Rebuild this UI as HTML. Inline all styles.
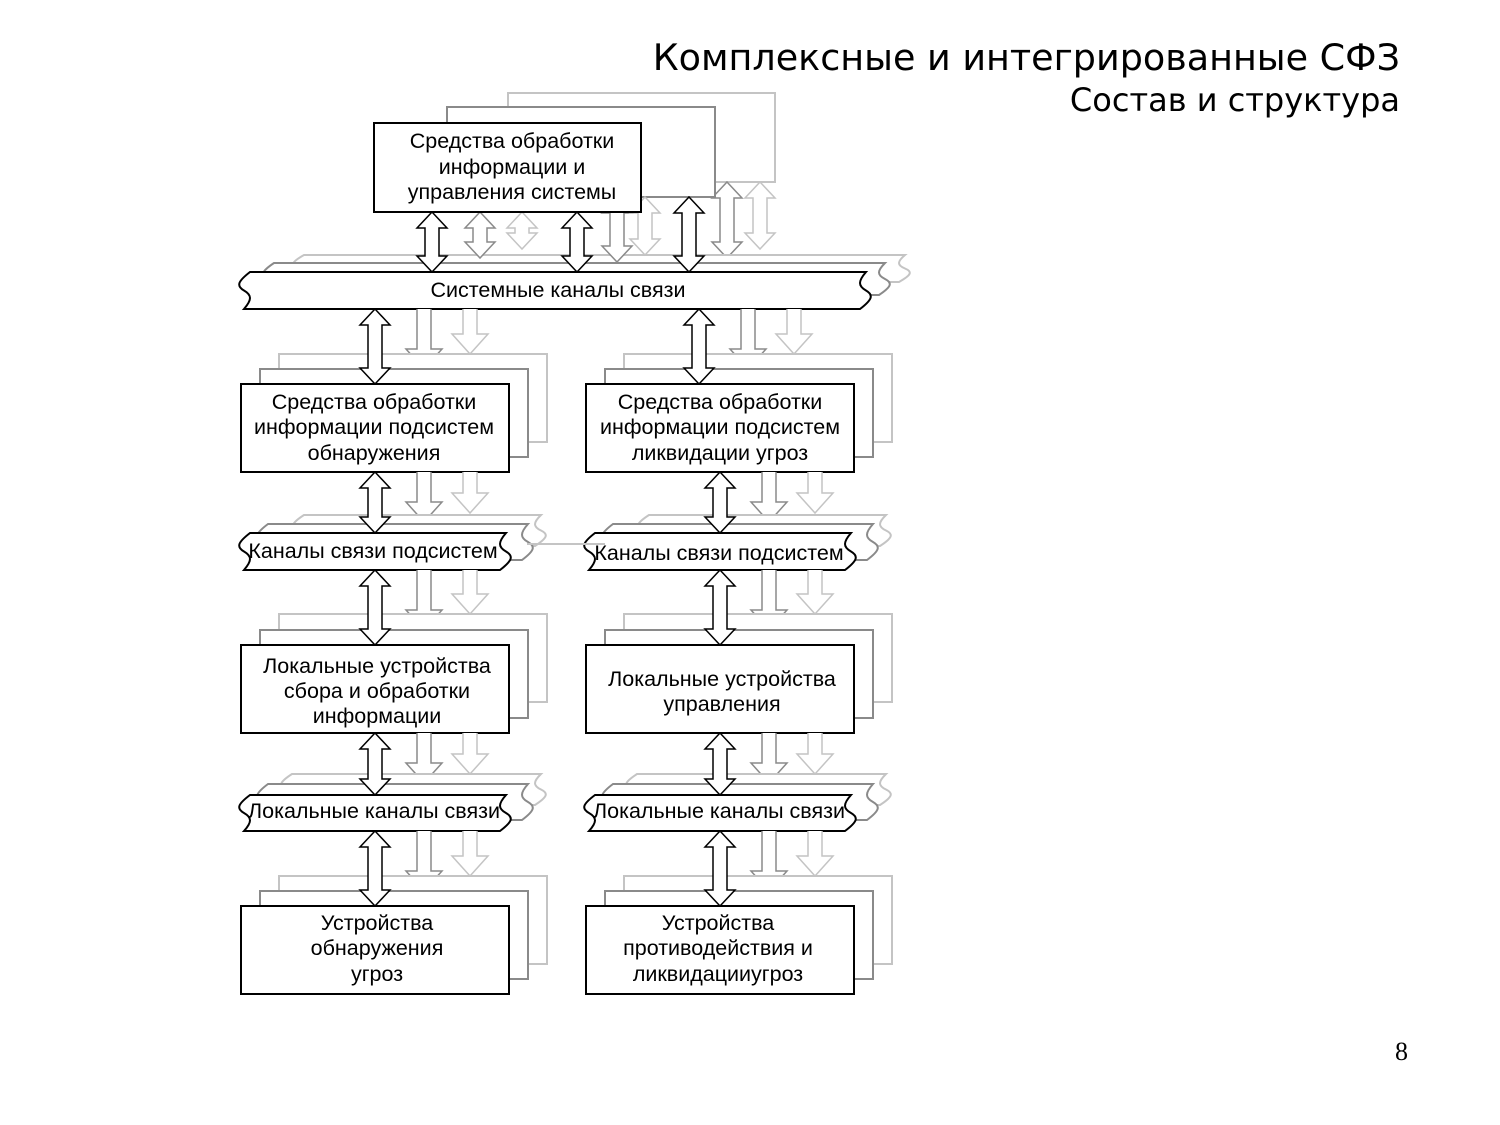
<!DOCTYPE html>
<html><head><meta charset="utf-8"><style>
html,body{margin:0;padding:0;background:#fff}
svg{display:block}
.t{font-family:"Liberation Sans",Arial,sans-serif;font-size:21.5px;fill:#000}
</style></head><body>
<svg id="s" width="1500" height="1125" viewBox="0 0 1500 1125" xmlns="http://www.w3.org/2000/svg">
<g id="shapes"></g>
<text x="1400" y="70" text-anchor="end" style="font-family:'DejaVu Sans',sans-serif;font-size:36.5px" fill="#000">Комплексные и интегрированные СФЗ</text>
<text x="1400" y="111" text-anchor="end" style="font-family:'DejaVu Sans',sans-serif;font-size:32px" fill="#000">Состав и структура</text>
<text x="1408" y="1060" text-anchor="end" style="font-family:'Liberation Serif',serif;font-size:26px" fill="#000">8</text>

<g class="t" text-anchor="middle">
<text x="512" y="148">Средства  обработки</text>
<text x="512" y="174">информации и</text>
<text x="512" y="199">управления системы</text>
<text x="558" y="297">Системные каналы связи</text>

<text x="374" y="409">Средства  обработки</text>
<text x="374" y="434">информации подсистем</text>
<text x="374" y="460">обнаружения</text>
<text x="720" y="409">Средства  обработки</text>
<text x="720" y="434">информации подсистем</text>
<text x="720" y="460">ликвидации угроз</text>

<text x="373" y="558">Каналы связи подсистем</text>
<text x="719" y="560">Каналы связи подсистем</text>

<text x="377" y="673">Локальные устройства</text>
<text x="377" y="698">сбора и обработки</text>
<text x="377" y="723">информации</text>
<text x="722" y="686">Локальные устройства</text>
<text x="722" y="711">управления</text>

<text x="374" y="818">Локальные каналы связи</text>
<text x="719" y="818">Локальные каналы связи</text>

<text x="377" y="930">Устройства</text>
<text x="377" y="955">обнаружения</text>
<text x="377" y="981">угроз</text>
<text x="718" y="930">Устройства</text>
<text x="718" y="955">противодействия и</text>
<text x="718" y="981">ликвидацииугроз</text>
</g>
</svg>
<script>
var g=document.getElementById('shapes'),h='';
var L='#c4c4c4',M='#8a8a8a',K='#000';
function rect(x1,y1,x2,y2,c,w){h+='<rect x="'+x1+'" y="'+y1+'" width="'+(x2-x1)+'" height="'+(y2-y1)+'" fill="#fff" stroke="'+c+'" stroke-width="'+(w||2)+'"/>';}
function band(x1,y1,x2,y2,c,w){var m=(y1+y2)/2,q=(y2-y1)/4;
h+='<path d="M'+(x1+6)+','+y1+' L'+x2+','+y1+' C'+(x2-8)+','+(y1+q)+' '+(x2-8)+','+(m-q/2)+' '+x2+','+m+' C'+(x2+8)+','+(m+q/2)+' '+(x2+6)+','+(y2-q)+' '+(x2-6)+','+y2+' L'+x1+','+y2+' C'+(x1+8)+','+(y2-q)+' '+(x1+8)+','+(m+q/2)+' '+x1+','+m+' C'+(x1-8)+','+(m-q/2)+' '+(x1-6)+','+(y1+q)+' '+(x1+6)+','+y1+' Z" fill="#fff" stroke="'+c+'" stroke-width="'+(w||2)+'"/>';}
function dbl(x,y1,y2,c){var a=15,s=7,hl=16;
h+='<path d="M'+x+','+y1+' L'+(x+a)+','+(y1+hl)+' L'+(x+s)+','+(y1+hl)+' L'+(x+s)+','+(y2-hl)+' L'+(x+a)+','+(y2-hl)+' L'+x+','+y2+' L'+(x-a)+','+(y2-hl)+' L'+(x-s)+','+(y2-hl)+' L'+(x-s)+','+(y1+hl)+' L'+(x-a)+','+(y1+hl)+' Z" fill="#fff" stroke="'+c+'" stroke-width="1.5"/>';}
function down(x,y1,y2,c){var a=18,s=7,hl=20;
h+='<path d="M'+(x-s)+','+y1+' L'+(x-s)+','+(y2-hl)+' L'+(x-a)+','+(y2-hl)+' L'+x+','+y2+' L'+(x+a)+','+(y2-hl)+' L'+(x+s)+','+(y2-hl)+' L'+(x+s)+','+y1+'" fill="#fff" stroke="'+c+'" stroke-width="1.5"/>';}

rect(508,93,775,182,L);
dbl(727,182,258,M); dbl(760,182,249,L);
rect(447,107,715,197,M);
band(298,255,905,282,L); band(268,263,885,295,M);
dbl(480,212,258,M); dbl(522,212,249,L); dbl(617,197,262,M); dbl(645,197,255,L);
rect(374,123,641,212,K);
dbl(432,212,272,K); dbl(577,212,272,K); dbl(689,197,272,K);
band(244,272,866,309,K);

function col(x,bx,arrx){
 var W=268;
 down(bx+49,309,369,M); down(bx+95,309,354,L);
 rect(x+38,354,x+306,442,L); rect(x+19,369,x+287,457,M);
 dbl(arrx,309,384,K);
 rect(x,384,x+W,472,K);
 down(x+183,472,522,M); down(x+229,472,513,L);
 band(x+57,515,x+300,546,L); band(x+21,524,x+287,560,M);
 dbl(x+134,472,533,K);
 band(x+3,533,x+265,570,K);
 down(x+183,570,630,M); down(x+229,570,614,L);
 rect(x+38,614,x+306,702,L); rect(x+19,630,x+287,718,M);
 dbl(x+134,570,645,K);
 rect(x,645,x+W,733,K);
 down(x+183,733,783,M); down(x+229,733,774,L);
 band(x+45,774,x+300,805,L); band(x+21,784,x+287,820,M);
 dbl(x+134,733,795,K);
 band(x+3,795,x+265,831,K);
 down(x+183,831,891,M); down(x+229,831,876,L);
 rect(x+38,876,x+306,964,L); rect(x+19,891,x+287,979,M);
 dbl(x+134,831,906,K);
 rect(x,906,x+W,994,K);
}
col(241,375,375);
col(586,699,699);
h+='<line x1="527" y1="544" x2="605" y2="544" stroke="'+L+'" stroke-width="2"/>';
g.innerHTML=h;
</script>
</body></html>
